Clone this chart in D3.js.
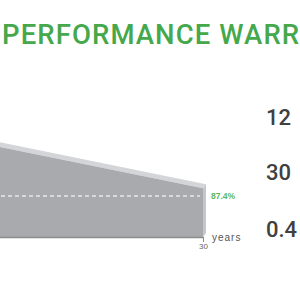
<!DOCTYPE html>
<html><head><meta charset="utf-8">
<script src="https://cdn.jsdelivr.net/npm/d3@7"></script>
<style>html,body{margin:0;padding:0;background:#fff;overflow:hidden}</style>
</head><body>
<svg id="c" width="300" height="300"></svg>
<script>
const title = "PERFORMANCE WARRANTY";
const years = [1, 30];
const power = [97.0, 88.8];
const guarantee = 87.4;
const guaranteeLabel = "87.4%";
const xTickLabels = ["30"];
const xUnit = "years";
const sideNumbers = ["12", "30", "0.4"];

const svg = d3.select("#c");
const x = d3.scaleLinear().domain([1, 30]).range([-20, 203]);
const y = d3.scaleLinear().domain([80, 100]).range([237, 126.2]);
const base = 80;
const dx = 3, dy = -4;

const pts = years.map((yr, i) => [x(yr), y(power[i])]);

// top face (3D)
const topFace = [pts[0], pts[1], [pts[1][0] + dx, pts[1][1] + dy], [pts[0][0] + dx, pts[0][1] + dy]];
svg.append("path").attr("d", d3.line()(topFace) + "Z").attr("fill", "#d3d5d8");
// side face
const sideFace = [[x(30), y(power[1])], [x(30) + dx, y(power[1]) + dy], [x(30) + dx, y(base) + dy], [x(30), y(base)]];
svg.append("path").attr("d", d3.line()(sideFace) + "Z").attr("fill", "#c4c6c9");
// front face
const area = d3.area().x(d => d[0]).y0(y(base)).y1(d => d[1]);
svg.append("path").attr("d", area(pts)).attr("fill", "#a8aaae");

// dashed guarantee line
svg.append("line").attr("x1", x(1)).attr("x2", x(30) - 3)
  .attr("y1", y(guarantee)).attr("y2", y(guarantee))
  .attr("stroke", "#e6e7e9").attr("stroke-width", 1.5).attr("stroke-dasharray", "4,3");
svg.append("text").attr("x", x(30) + 8).attr("y", y(guarantee) + 3)
  .attr("font-family", "Liberation Sans, Arial, sans-serif").attr("font-size", 8.5)
  .attr("font-weight", 600).attr("fill", "#5cb85f").text(guaranteeLabel);

// x axis
const axis = d3.axisBottom(x).tickValues([30]).tickFormat((d, i) => xTickLabels[i]).tickSize(5).tickSizeOuter(0);
const g = svg.append("g").attr("transform", `translate(0,${y(base)})`).call(axis);
g.select(".domain").attr("stroke", "#8c8c8c").attr("stroke-width", 1.5);
g.selectAll(".tick line").attr("stroke", "#8c8c8c");
g.selectAll(".tick text").attr("font-family", "Liberation Sans, Arial, sans-serif")
  .attr("font-size", 8).attr("fill", "#666").attr("dy", "0.5em");
svg.append("text").attr("x", x(30) + 9).attr("y", y(base) + 4)
  .attr("font-family", "Liberation Sans, Arial, sans-serif").attr("font-size", 10)
  .attr("letter-spacing", 1).attr("fill", "#555").text(xUnit);

// title
svg.append("text").attr("x", 2).attr("y", 44)
  .attr("font-family", "Roboto, Liberation Sans, sans-serif").attr("font-size", 27.5)
  .attr("font-weight", 500).attr("letter-spacing", 1.1).attr("fill", "#45a84b").text(title);

// side numbers
const ny = [125, 180, 237];
sideNumbers.forEach((t, i) => {
  svg.append("text").attr("x", 266).attr("y", ny[i])
    .attr("font-family", "Roboto, Liberation Sans, sans-serif").attr("font-size", 22)
    .attr("font-weight", 500).attr("fill", "#404040").text(t);
});
</script>
</body></html>
